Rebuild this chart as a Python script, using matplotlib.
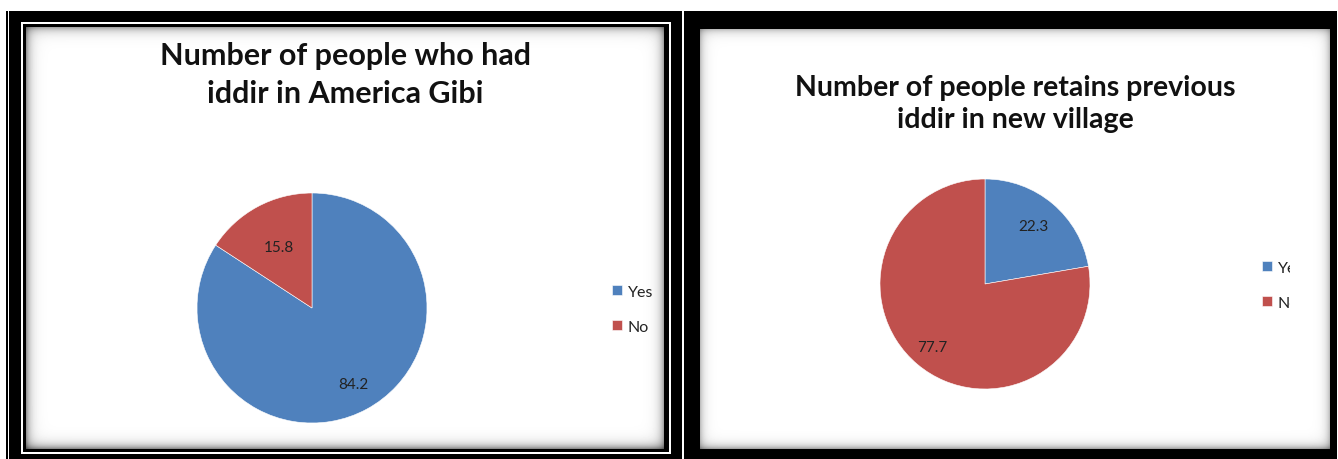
import numpy as np
import matplotlib
matplotlib.use('Agg')
import matplotlib.pyplot as plt
from matplotlib.transforms import Bbox, TransformedBbox

# data
categories = ['Yes', 'No']
had_iddir = [84.2, 15.8]
retains_iddir = [22.3, 77.7]
title_left = 'Number of people who had\niddir in America Gibi'
title_right = 'Number of people retains previous\niddir in new village'
colors = ['#4F81BD', '#C0504D']

W, H = 1338, 460
plt.rcParams['font.family'] = ['Lato', 'DejaVu Sans']

fig = plt.figure(figsize=(W / 100, H / 100), dpi=100)


def px_rect(x0, y0, x1, y1):
    return [x0 / W, 1 - y1 / H, (x1 - x0) / W, (y1 - y0) / H]


def shade(img, x0, y0, x1, y1, strength, width):
    ys, xs = np.mgrid[y0:y1, x0:x1]
    v = np.ones(xs.shape)
    for d, s in [(xs - x0, strength[0]), (ys - y0, strength[1]),
                 (x1 - 1 - xs, strength[2]), (y1 - 1 - ys, strength[3])]:
        v *= 1 - s * np.exp(-d / width)
    img[y0:y1, x0:x1] = v


# background frames (black borders with shaded white panels)
img = np.ones((H, W))
img[12:460, 6:8] = 0
img[12:460, 9:682] = 0
img[23:455, 21:671] = 1
img[25:453, 23:669] = 0
shade(img, 26, 28, 664, 450, (0.4, 0.35, 0.35, 0.45), 4.5)
img[12:460, 684:1337] = 0
shade(img, 700, 30, 1330, 450, (0.25, 0.25, 0.25, 0.35), 4)

bg = fig.add_axes([0, 0, 1, 1])
bg.imshow(img, cmap='gray', vmin=0, vmax=1, aspect='auto', interpolation='nearest')
bg.axis('off')


def draw_pie(cx, cy, r, values, dists):
    ax = fig.add_axes(px_rect(cx - r, cy - r, cx + r, cy + r))
    wedges, _ = ax.pie(values, colors=colors, startangle=90, counterclock=False,
                       radius=1, wedgeprops=dict(edgecolor='white', linewidth=0.4))
    for w, v, d in zip(wedges, values, dists):
        ang = np.deg2rad((w.theta1 + w.theta2) / 2)
        ax.text(d * np.cos(ang), d * np.sin(ang), f'{v:.1f}', ha='center', va='center',
                fontsize=11, color='#222222')
    ax.set_xlim(-1, 1)
    ax.set_ylim(-1, 1)
    ax.axis('off')
    return ax, wedges


ax1, w1 = draw_pie(312, 309, 115, had_iddir, [0.75, 0.6])
ax2, w2 = draw_pie(985, 285, 105, retains_iddir, [0.72, 0.78])

fig.text(345 / W, 1 - 75 / H, title_left, ha='center', va='center', fontsize=22,
         fontweight='bold', linespacing=1.4, color='#111111')
fig.text(1015 / W, 1 - 104 / H, title_right, ha='center', va='center', fontsize=20.5,
         fontweight='bold', linespacing=1.3, color='#111111')

leg_kw = dict(frameon=False, fontsize=11.5, handlelength=0.6, handleheight=0.6,
              handletextpad=0.4, labelspacing=1.3, borderpad=0, borderaxespad=0,
              loc='upper left', bbox_transform=fig.transFigure, labelcolor='#222222')
leg1 = fig.legend(w1, categories, bbox_to_anchor=(612 / W, 1 - 286 / H), **leg_kw)
leg2 = fig.legend(w2, categories, bbox_to_anchor=(1262 / W, 1 - 262 / H), **leg_kw)

# the right legend is cut off by the chart area
clip = TransformedBbox(Bbox.from_extents(0, 0, 1290 / W, 1), fig.transFigure)
for t in leg2.get_texts():
    t.set_clip_on(True)
    t.set_clip_box(clip)

fig.savefig('out.png', dpi=100)
